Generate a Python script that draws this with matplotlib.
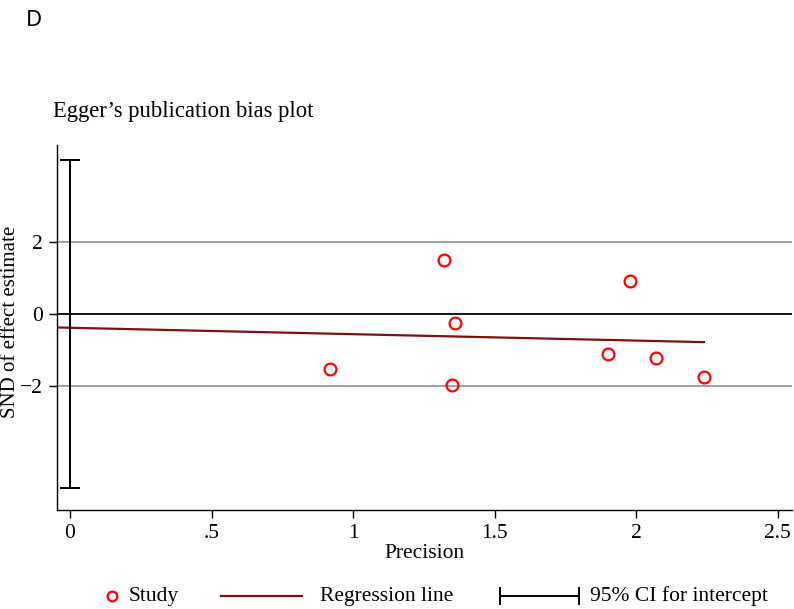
import numpy as np
import matplotlib
matplotlib.use("Agg")
import matplotlib.pyplot as plt
from matplotlib.lines import Line2D

# Study-level data: precision (1/SE) and standard normal deviate (effect/SE)
precision = [0.92, 1.32, 1.36, 1.35, 1.98, 1.90, 2.07, 2.24]
snd = [-1.53, 1.51, -0.26, -1.97, 0.93, -1.12, -1.21, -1.75]

# 95% confidence interval for the Egger intercept
ci_intercept = [-4.82, 4.28]

x_ticks = [0, 0.5, 1, 1.5, 2, 2.5]
x_tick_labels = ["0", ".5", "1", "1.5", "2", "2.5"]
y_ticks = [-2, 0, 2]
y_tick_labels = ["\u22122", "0", "2"]

serif = "Liberation Serif"
fs = 15.5

W, H = 794, 609
fig = plt.figure(figsize=(W / 100, H / 100), dpi=100)

# axes box in pixel units
left_px, right_px, top_px, bottom_px = 57, 792, 145, 510
ax = fig.add_axes([left_px / W, 1 - bottom_px / H,
                   (right_px - left_px) / W, (bottom_px - top_px) / H])
ax.set_xlim(-0.046, 2.551)
ax.set_ylim(-5.444, 4.694)

# reference lines
ax.axhline(2, color="#9a9a9a", lw=1.3, zorder=1)
ax.axhline(-2, color="#9a9a9a", lw=1.3, zorder=1)
ax.axhline(0, color="black", lw=1.3, zorder=1)

# Egger regression: SND on precision
slope, intercept = np.polyfit(precision, snd, 1)
xs = np.array([ax.get_xlim()[0], max(precision)])
ax.plot(xs, intercept + slope * xs, color="#7d1010", lw=1.6, zorder=2)

# confidence interval for the intercept
ax.errorbar([0], [intercept],
            yerr=[[intercept - ci_intercept[0]], [ci_intercept[1] - intercept]],
            fmt="none", ecolor="black", elinewidth=1.4, capsize=7, capthick=1.4,
            zorder=3)

# studies
ax.plot(precision, snd, linestyle="none", marker="o", markersize=8.5,
        markerfacecolor="none", markeredgecolor="#ff0000", markeredgewidth=1.6,
        zorder=4)

for s in ["top", "right"]:
    ax.spines[s].set_visible(False)
for s in ["left", "bottom"]:
    ax.spines[s].set_linewidth(1.0)

ax.set_xticks(x_ticks)
ax.set_xticklabels(x_tick_labels, fontfamily=serif, fontsize=fs)
ax.set_yticks(y_ticks)
ax.set_yticklabels(y_tick_labels, fontfamily=serif, fontsize=fs)
ax.tick_params(axis="both", length=6, width=1.0, pad=4)

ax.set_xlabel("Precision", fontfamily=serif, fontsize=fs, labelpad=1)

# y-axis title hugs the figure's left edge
fig.text(1 / W, 1 - 322 / H, "SND of effect estimate", rotation=90,
         ha="left", va="center", fontfamily=serif, fontsize=15)

# panel letter and title
fig.text(26 / W, 1 - 20 / H, "D", ha="left", va="center",
         fontfamily="Noto Sans", fontsize=16, fontweight="medium")
fig.text(53 / W, 1 - 111 / H, "Egger\u2019s publication bias plot",
         ha="left", va="center", fontfamily=serif, fontsize=16.3)

# legend row drawn in a pixel-coordinate overlay
lg = fig.add_axes([0, 0, 1, 1], facecolor="none")
lg.set_xlim(0, W)
lg.set_ylim(H, 0)
lg.axis("off")
ly = 596
lg.add_line(Line2D([112], [ly], linestyle="none", marker="o", markersize=7,
                   markerfacecolor="none", markeredgecolor="#ff0000",
                   markeredgewidth=1.6))
lg.text(129, ly, "Study", ha="left", va="center", fontfamily=serif, fontsize=fs)
lg.add_line(Line2D([221, 302], [ly, ly], color="#7d1010", lw=1.6))
lg.text(320, ly, "Regression line", ha="left", va="center",
        fontfamily=serif, fontsize=fs)
lg.add_line(Line2D([500, 579], [ly, ly], color="black", lw=1.4))
lg.add_line(Line2D([500, 500], [ly - 8, ly + 8], color="black", lw=1.4))
lg.add_line(Line2D([579, 579], [ly - 8, ly + 8], color="black", lw=1.4))
lg.text(590, ly, "95% CI for intercept", ha="left", va="center",
        fontfamily=serif, fontsize=fs)

fig.savefig("out.png", dpi=100, facecolor="white")
